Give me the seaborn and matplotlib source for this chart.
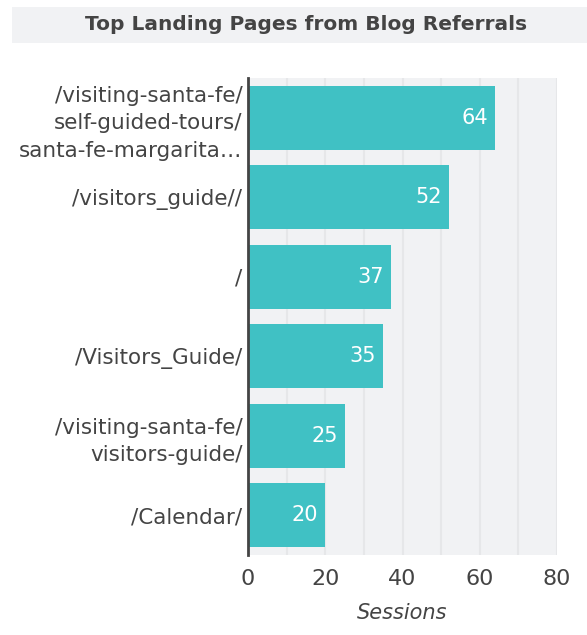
import matplotlib
matplotlib.use("Agg")
import matplotlib.pyplot as plt
import seaborn as sns
import pandas as pd
from matplotlib.patches import Rectangle

pages = ["/visiting-santa-fe/\nself-guided-tours/\nsanta-fe-margarita…",
         "/visitors_guide//", "/", "/Visitors_Guide/",
         "/visiting-santa-fe/\nvisitors-guide/", "/Calendar/"]
sessions = [64, 52, 37, 35, 25, 20]
major_ticks = [0, 20, 40, 60, 80]
minor_ticks = [10, 30, 50, 70]

df = pd.DataFrame({"page": pages, "sessions": sessions})

sns.set_theme(style="white")
plt.rcParams["font.family"] = ["DejaVu Sans"]
text_color = "#444444"

fig = plt.figure(figsize=(5.87, 6.35), dpi=100)
fig.patches.append(Rectangle((12/587, 1-43/635), 1, 36/635, transform=fig.transFigure,
                             facecolor="#F1F2F4", edgecolor="none", zorder=0))
fig.text(306/587, 1-25/635, "Top Landing Pages from Blog Referrals", ha="center", va="center",
         fontsize=14.5, fontweight="bold", color=text_color)

ax = fig.add_axes([248/587, 1-555/635, (557-248)/587, (555-78)/635])
ax.set_facecolor("#F1F2F4")
sns.barplot(data=df, x="sessions", y="page", orient="h", color="#40C1C4",
            saturation=1, width=0.81, linewidth=0, ax=ax, zorder=3)
ax.set_xlim(0, 80)
ax.set_xticks(major_ticks)
ax.set_xticks(minor_ticks, minor=True)
ax.grid(True, axis="x", which="both", color="#E6E7E9", linewidth=1.5, zorder=0)
ax.set_axisbelow(True)
for s in ["top", "right", "bottom"]:
    ax.spines[s].set_visible(False)
ax.spines["left"].set_color(text_color)
ax.spines["left"].set_linewidth(2)
ax.spines["left"].set_zorder(5)
ax.tick_params(axis="both", which="both", length=0, colors=text_color)
ax.tick_params(axis="x", pad=10, labelsize=16)
ax.tick_params(axis="y", pad=4, labelsize=15.5)
for lbl in ax.get_yticklabels():
    lbl.set_linespacing(1.45)
ax.set_ylabel("")
ax.set_xlabel("Sessions", fontsize=15, fontstyle="italic", color=text_color, labelpad=10)

for patch, v in zip(ax.patches, sessions):
    ax.annotate(str(v), xy=(patch.get_width(), patch.get_y() + patch.get_height() / 2),
                xytext=(-5, 0), textcoords="offset points", ha="right", va="center",
                color="white", fontsize=15)

fig.savefig("out.png", dpi=100)
